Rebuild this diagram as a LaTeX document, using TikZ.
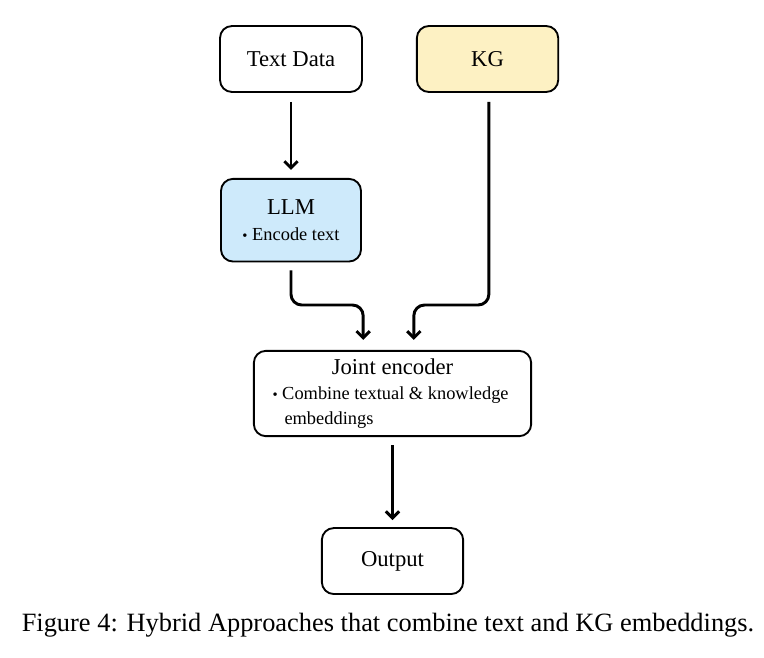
\documentclass[tikz,border=0pt]{standalone}
\usepackage{fontspec}
\setmainfont{Liberation Serif}
\usetikzlibrary{positioning, arrows.meta}

\definecolor{kgyellow}{HTML}{FDF1C3}
\definecolor{llmblue}{HTML}{CEEAFB}

\newcommand{\bul}{{\fontsize{11}{11}\selectfont\textbullet}\ }

\tikzset{
  block/.style={draw, line width=1.4pt, rounded corners=9pt, align=center,
    inner sep=0pt, font=\fontsize{17}{20}\selectfont},
  flow/.style={line width=2.2pt, rounded corners=8pt,
    -{Straight Barb[length=5pt, width=10pt, line width=2.2pt]}}
}

\begin{document}
\begin{tikzpicture}[x=0.75pt, y=-0.75pt]
\useasboundingbox (0,0) rectangle (764,657);
\node[block, minimum width=106.5pt, minimum height=49.5pt] (text) at (291,59) {Text Data};
\node[block, fill=kgyellow, minimum width=106pt, minimum height=49.5pt,
    right=39.75pt of text] (kg) {KG};
\node[block, fill=llmblue, minimum width=105pt, minimum height=62pt,
    below=63.75pt of text] (llm)
    {LLM\\[0pt]{\fontsize{13.8}{16}\selectfont\bul Encode text}};
\node[block, minimum width=208pt, minimum height=64pt] (joint) at (392.5,393.5)
    {Joint encoder\\[-1pt]\parbox[t]{180pt}{\fontsize{13.8}{18.5}\selectfont\raggedright
     \hangindent=9pt\hangafter=1 \bul Combine textual \& knowledge\newline embeddings}};
\node[block, minimum width=106pt, minimum height=49.5pt,
    below=67.5pt of joint] (out) {Output};
\node[font=\fontsize{19.8}{22}\selectfont] (cap) at (388,625)
    {Figure 4: Hybrid Approaches that combine text and KG embeddings.};

\coordinate (turn) at (0,305);
\coordinate (jl) at ([xshift=-22pt, yshift=7.5pt]joint.north);
\coordinate (jr) at ([xshift=16pt, yshift=7.5pt]joint.north);
\coordinate (ls) at ([yshift=-6pt]llm.south);
\coordinate (ks) at ([xshift=1pt, yshift=-6.75pt]kg.south);

\draw[flow] ([yshift=-6.75pt]text.south) -- ([yshift=6pt]llm.north);
\draw[flow] (ls) -- (ls |- turn) -| (jl);
\draw[flow] (ks) -- (ks |- turn) -| (jr);
\draw[flow] ([yshift=-6pt]joint.south) -- ([yshift=5.25pt]out.north);
\end{tikzpicture}
\end{document}
